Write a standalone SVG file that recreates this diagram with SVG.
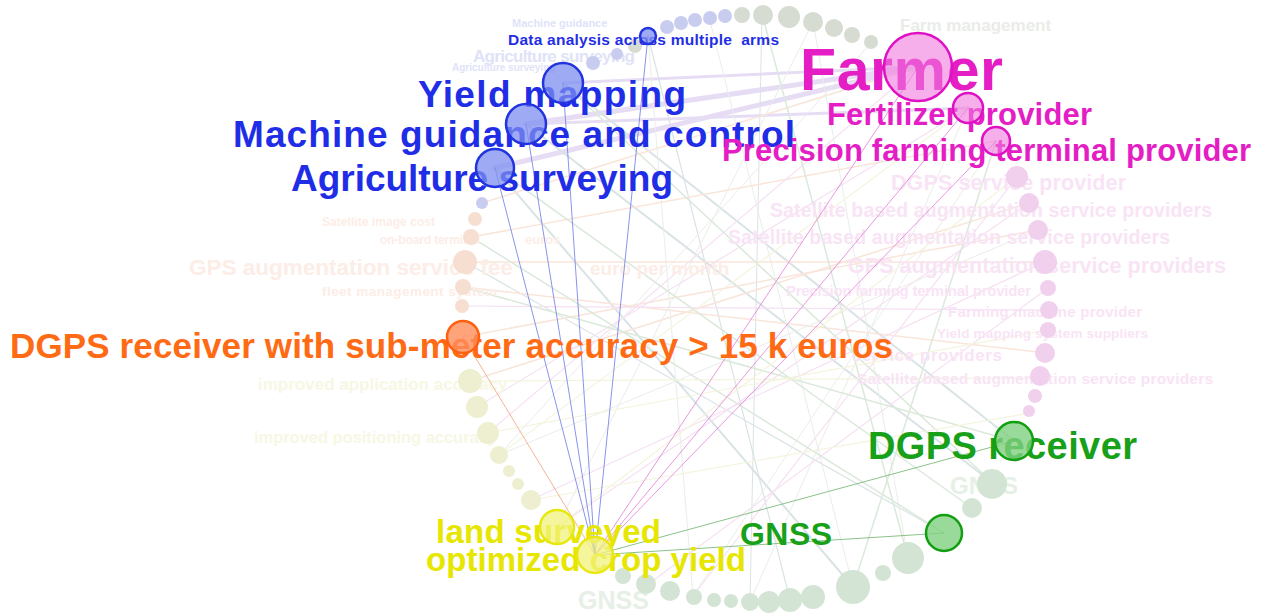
<svg xmlns="http://www.w3.org/2000/svg" width="1266" height="614" viewBox="0 0 1266 614">
<style>
text{font-family:"Liberation Sans",Arial,Helvetica,sans-serif;font-weight:bold;white-space:pre}
.fe{fill:none;stroke-linecap:round}
.teal{stroke:#d9e3e5;stroke-width:2}
.peach{stroke:#f9e5da;stroke-width:1.5}
.pinkf{stroke:#f6e0f3;stroke-width:1.2}
.grayf{stroke:#eaedea;stroke-width:1}
.greenf{stroke:#dbe9db;stroke-width:1.5}
.yelf{stroke:#f4f4de;stroke-width:1.2}
.lav{stroke:#e6ddf5;stroke-width:5}
.hb{stroke:#6a78e6;stroke-width:0.8}
.hp{stroke:#e27ed8;stroke-width:0.8}
.ho{stroke:#f2a07c;stroke-width:0.8}
.hg{stroke:#6db46d;stroke-width:0.8}
.fc-g{fill:#d6dcd1}
.fc-b{fill:#c8cdf0}
.fc-o{fill:#f6dfd0}
.fc-y{fill:#eeeed0}
.fc-n{fill:#d4e4d4}
.fc-p{fill:#f0d0ec}
.ft-p{fill:#f9e4f6}
.ft-b{fill:#dfe3f8}
.ft-o{fill:#fcede6}
.ft-y{fill:#f7f7e4}
.ft-n{fill:#e6f0e6}
.ft-g{fill:#eaece8}
.nb circle{fill:#7d8df0;fill-opacity:0.75;stroke:#2233e0;stroke-width:2.5}
.nb text{fill:#1f2ee6}
.np circle{fill:#f07ade;fill-opacity:0.6;stroke:#e010c4;stroke-width:2.5}
.np text{fill:#e41ec4}
.no circle{fill:#ff8c5a;fill-opacity:0.8;stroke:#ff6010;stroke-width:2.5}
.no text{fill:#ff6a14}
.ng circle{fill:#7fcf7f;fill-opacity:0.8;stroke:#12a012;stroke-width:2.5}
.ng text{fill:#18a018}
.ny circle{fill:#f2f27a;fill-opacity:0.75;stroke:#e8e810;stroke-width:2.5}
.ny text{fill:#e6e600}
</style>

<g id="background-edges">
<line class="fe lav" x1="495" y1="168" x2="918" y2="67"/>
<line class="fe lav" x1="526" y1="124" x2="918" y2="67"/>
<line class="fe lav" x1="563" y1="83" x2="918" y2="67" style="stroke-width:3"/>
<line class="fe lav" x1="526" y1="124" x2="968" y2="108" style="stroke-width:3"/>
<line class="fe teal" x1="563" y1="83" x2="1014" y2="441"/>
<line class="fe teal" x1="495" y1="168" x2="853" y2="587"/>
<line class="fe teal" x1="526" y1="124" x2="993" y2="483"/>
<line class="fe teal" x1="465" y1="262" x2="944" y2="533" style="stroke-width:1.2"/>
<line class="fe teal" x1="648" y1="36" x2="790" y2="600" style="stroke-width:1.2"/>
<line class="fe teal" x1="762" y1="14" x2="750" y2="602" style="stroke-width:1"/>
<line class="fe peach" x1="465" y1="262" x2="1045" y2="262"/>
<line class="fe peach" x1="471" y1="237" x2="996" y2="141"/>
<line class="fe peach" x1="463" y1="287" x2="1046" y2="353"/>
<line class="fe peach" x1="482" y1="203" x2="918" y2="67"/>
<line class="fe peach" x1="470" y1="381" x2="1029" y2="203"/>
<line class="fe peach" x1="463" y1="337" x2="1038" y2="230"/>
<line class="fe pinkf" x1="918" y1="67" x2="488" y2="433"/>
<line class="fe pinkf" x1="968" y1="108" x2="477" y2="407"/>
<line class="fe pinkf" x1="1045" y1="262" x2="531" y2="500"/>
<line class="fe pinkf" x1="1049" y1="310" x2="462" y2="306"/>
<line class="fe pinkf" x1="1029" y1="203" x2="557" y2="527"/>
<line class="fe pinkf" x1="1048" y1="288" x2="647" y2="585"/>
<line class="fe pinkf" x1="1017" y1="177" x2="693" y2="596"/>
<line class="fe grayf" x1="648" y1="36" x2="693" y2="596"/>
<line class="fe grayf" x1="813" y1="22" x2="557" y2="527"/>
<line class="fe grayf" x1="709" y1="17" x2="853" y2="587"/>
<line class="fe grayf" x1="872" y1="42" x2="499" y2="455"/>
<line class="fe grayf" x1="968" y1="108" x2="750" y2="602"/>
<line class="fe grayf" x1="1038" y1="230" x2="499" y2="455"/>
<line class="fe grayf" x1="996" y1="141" x2="693" y2="596"/>
<line class="fe grayf" x1="813" y1="22" x2="908" y2="558"/>
<line class="fe greenf" x1="1014" y1="441" x2="463" y2="287"/>
<line class="fe greenf" x1="944" y1="533" x2="471" y2="237"/>
<line class="fe greenf" x1="972" y1="508" x2="495" y2="168"/>
<line class="fe greenf" x1="853" y1="587" x2="996" y2="141"/>
<line class="fe greenf" x1="993" y1="483" x2="563" y2="83"/>
<line class="fe greenf" x1="908" y1="558" x2="762" y2="14"/>
<line class="fe yelf" x1="470" y1="381" x2="1041" y2="378"/>
<line class="fe yelf" x1="488" y1="433" x2="1048" y2="330"/>
<line class="fe yelf" x1="499" y1="455" x2="968" y2="108"/>
<line class="fe yelf" x1="557" y1="527" x2="1017" y2="177"/>
<line class="fe yelf" x1="531" y1="500" x2="1030" y2="413"/>
</g>

<g id="background-labels">
<text class="ft-b" x="512" y="27" font-size="11">Machine guidance</text>
<text class="ft-g" x="900" y="31" font-size="17">Farm management</text>
<text class="ft-b" x="473" y="62" font-size="17" textLength="162">Agriculture surveying</text>
<text class="ft-b" x="452" y="71" font-size="10">Agriculture surveying</text>
<text class="ft-p" x="891" y="190" font-size="21.5" textLength="235">DGPS service provider</text>
<text class="ft-p" x="770" y="217" font-size="19.5" textLength="442">Satellite based augmentation service providers</text>
<text class="ft-p" x="728" y="244" font-size="19.5" textLength="442">Satellite based augmentation service providers</text>
<text class="ft-p" x="848" y="273" font-size="21.5" textLength="378">GPS augmentation service providers</text>
<text class="ft-p" x="786" y="296" font-size="15" textLength="245">Precision farming terminal provider</text>
<text class="ft-p" x="948" y="317" font-size="15" textLength="194">Farming machine provider</text>
<text class="ft-p" x="937" y="338" font-size="13.5" textLength="211">Yield mapping system suppliers</text>
<text class="ft-p" x="852" y="361" font-size="17" textLength="150">service providers</text>
<text class="ft-p" x="857" y="384" font-size="15.5" textLength="356">Satellite based augmentation service providers</text>
<text class="ft-o" x="322" y="226" font-size="12" textLength="113">Satellite image cost</text>
<text class="ft-o" x="380" y="244" font-size="12" textLength="100">on-board terminal</text>
<text class="ft-o" x="525" y="244" font-size="13">euros</text>
<text class="ft-o" x="189" y="275" font-size="22.5">GPS augmentation service fee</text>
<text class="ft-o" x="590" y="275" font-size="19">euro per month</text>
<text class="ft-o" x="322" y="296" font-size="13.5" textLength="175">fleet management system</text>
<text class="ft-y" x="258" y="390" font-size="17">improved application accuracy</text>
<text class="ft-y" x="254" y="443" font-size="16.5" textLength="243">improved positioning accuracy</text>
<text class="ft-n" x="950" y="494" font-size="24">GNSS</text>
<text class="ft-n" x="578" y="609" font-size="25">GNSS</text>
</g>

<g id="background-nodes">
<circle class="fc-b" cx="593" cy="63" r="7"/>
<circle class="fc-b" cx="617" cy="54" r="6"/>
<circle class="fc-g" cx="635" cy="46" r="7"/>
<circle class="fc-b" cx="667" cy="27" r="7"/>
<circle class="fc-b" cx="681" cy="23" r="7"/>
<circle class="fc-b" cx="695" cy="20" r="7"/>
<circle class="fc-b" cx="710" cy="18" r="7"/>
<circle class="fc-b" cx="725" cy="16" r="7"/>
<circle class="fc-g" cx="742" cy="15" r="8"/>
<circle class="fc-g" cx="763" cy="15" r="10"/>
<circle class="fc-g" cx="789" cy="17" r="11"/>
<circle class="fc-g" cx="813" cy="22" r="10"/>
<circle class="fc-g" cx="834" cy="28" r="9"/>
<circle class="fc-g" cx="852" cy="35" r="8"/>
<circle class="fc-g" cx="871" cy="42" r="7"/>
<circle class="fc-p" cx="1017" cy="177" r="11"/>
<circle class="fc-p" cx="1029" cy="203" r="10"/>
<circle class="fc-p" cx="1038" cy="230" r="10"/>
<circle class="fc-p" cx="1045" cy="262" r="12"/>
<circle class="fc-p" cx="1048" cy="288" r="8"/>
<circle class="fc-p" cx="1049" cy="310" r="9"/>
<circle class="fc-p" cx="1048" cy="330" r="8"/>
<circle class="fc-p" cx="1045" cy="353" r="10"/>
<circle class="fc-p" cx="1040" cy="376" r="10"/>
<circle class="fc-p" cx="1035" cy="396" r="7"/>
<circle class="fc-p" cx="1029" cy="411" r="6"/>
<circle class="fc-n" cx="992" cy="484" r="15"/>
<circle class="fc-n" cx="972" cy="508" r="10"/>
<circle class="fc-n" cx="908" cy="558" r="16"/>
<circle class="fc-n" cx="883" cy="573" r="8"/>
<circle class="fc-n" cx="853" cy="587" r="17"/>
<circle class="fc-n" cx="813" cy="597" r="12"/>
<circle class="fc-n" cx="790" cy="600" r="12"/>
<circle class="fc-n" cx="769" cy="602" r="11"/>
<circle class="fc-n" cx="750" cy="602" r="9"/>
<circle class="fc-n" cx="731" cy="601" r="7"/>
<circle class="fc-n" cx="714" cy="600" r="7"/>
<circle class="fc-n" cx="694" cy="597" r="8"/>
<circle class="fc-n" cx="670" cy="591" r="10"/>
<circle class="fc-n" cx="646" cy="584" r="10"/>
<circle class="fc-n" cx="623" cy="576" r="8"/>
<circle class="fc-y" cx="531" cy="500" r="10"/>
<circle class="fc-y" cx="518" cy="484" r="6"/>
<circle class="fc-y" cx="509" cy="471" r="6"/>
<circle class="fc-y" cx="499" cy="455" r="9"/>
<circle class="fc-y" cx="488" cy="433" r="11"/>
<circle class="fc-y" cx="477" cy="407" r="11"/>
<circle class="fc-y" cx="470" cy="381" r="12"/>
<circle class="fc-o" cx="462" cy="306" r="7"/>
<circle class="fc-o" cx="463" cy="287" r="8"/>
<circle class="fc-o" cx="465" cy="262" r="12"/>
<circle class="fc-o" cx="471" cy="237" r="8"/>
<circle class="fc-o" cx="475" cy="219" r="7"/>
<circle class="fc-b" cx="482" cy="203" r="6"/>
</g>

<g id="connectors">
<line class="fe hb" x1="595" y1="555" x2="648" y2="36"/>
<line class="fe hb" x1="595" y1="555" x2="563" y2="83"/>
<line class="fe hb" x1="595" y1="555" x2="526" y2="124"/>
<line class="fe hb" x1="595" y1="555" x2="495" y2="168"/>
<line class="fe hp" x1="595" y1="555" x2="918" y2="67"/>
<line class="fe hp" x1="595" y1="555" x2="968" y2="108"/>
<line class="fe hp" x1="595" y1="555" x2="996" y2="141"/>
<line class="fe ho" x1="595" y1="555" x2="463" y2="337"/>
<line class="fe hg" x1="595" y1="555" x2="1014" y2="441"/>
<line class="fe hg" x1="595" y1="555" x2="944" y2="533"/>
</g>

<g id="node-data-analysis" class="nb">
<text x="508" y="45" font-size="15.5" textLength="271">Data analysis across multiple  arms</text>
<circle cx="648" cy="36" r="8"/>
</g>
<g id="node-yield-mapping" class="nb">
<text x="418" y="107" font-size="37" textLength="268">Yield mapping</text>
<circle cx="563" cy="83" r="20"/>
</g>
<g id="node-machine-guidance" class="nb">
<text x="233" y="147" font-size="37" textLength="562">Machine guidance and control</text>
<circle cx="526" cy="124" r="20"/>
</g>
<g id="node-agriculture-surveying" class="nb">
<text x="291" y="191" font-size="37" textLength="382">Agriculture surveying</text>
<circle cx="495" cy="168" r="19"/>
</g>
<g id="node-farmer" class="np">
<text x="800" y="90" font-size="59" textLength="203">Farmer</text>
<circle cx="918" cy="67" r="34"/>
</g>
<g id="node-fertilizer-provider" class="np">
<text x="827" y="125" font-size="31" textLength="265">Fertilizer provider</text>
<circle cx="968" cy="108" r="15"/>
</g>
<g id="node-precision-terminal" class="np">
<text x="722" y="161" font-size="31" textLength="529">Precision farming terminal provider</text>
<circle cx="996" cy="141" r="14"/>
</g>
<g id="node-dgps-submeter" class="no">
<text x="10" y="358" font-size="35" textLength="883">DGPS receiver with sub-meter accuracy &gt; 15 k euros</text>
<circle cx="463" cy="337" r="16"/>
</g>
<g id="node-dgps-receiver" class="ng">
<text x="868" y="459" font-size="38" textLength="269">DGPS receiver</text>
<circle cx="1014" cy="441" r="19"/>
</g>
<g id="node-gnss" class="ng">
<text x="740" y="545" font-size="32" textLength="92">GNSS</text>
<circle cx="944" cy="533" r="18"/>
</g>
<g id="node-land-surveyed" class="ny">
<text x="436" y="543" font-size="33" textLength="225">land surveyed</text>
<circle cx="557" cy="527" r="17"/>
</g>
<g id="node-optimized-crop-yield" class="ny">
<text x="426" y="571" font-size="33" textLength="320">optimized crop yield</text>
<circle cx="595" cy="555" r="18"/>
</g>
</svg>
